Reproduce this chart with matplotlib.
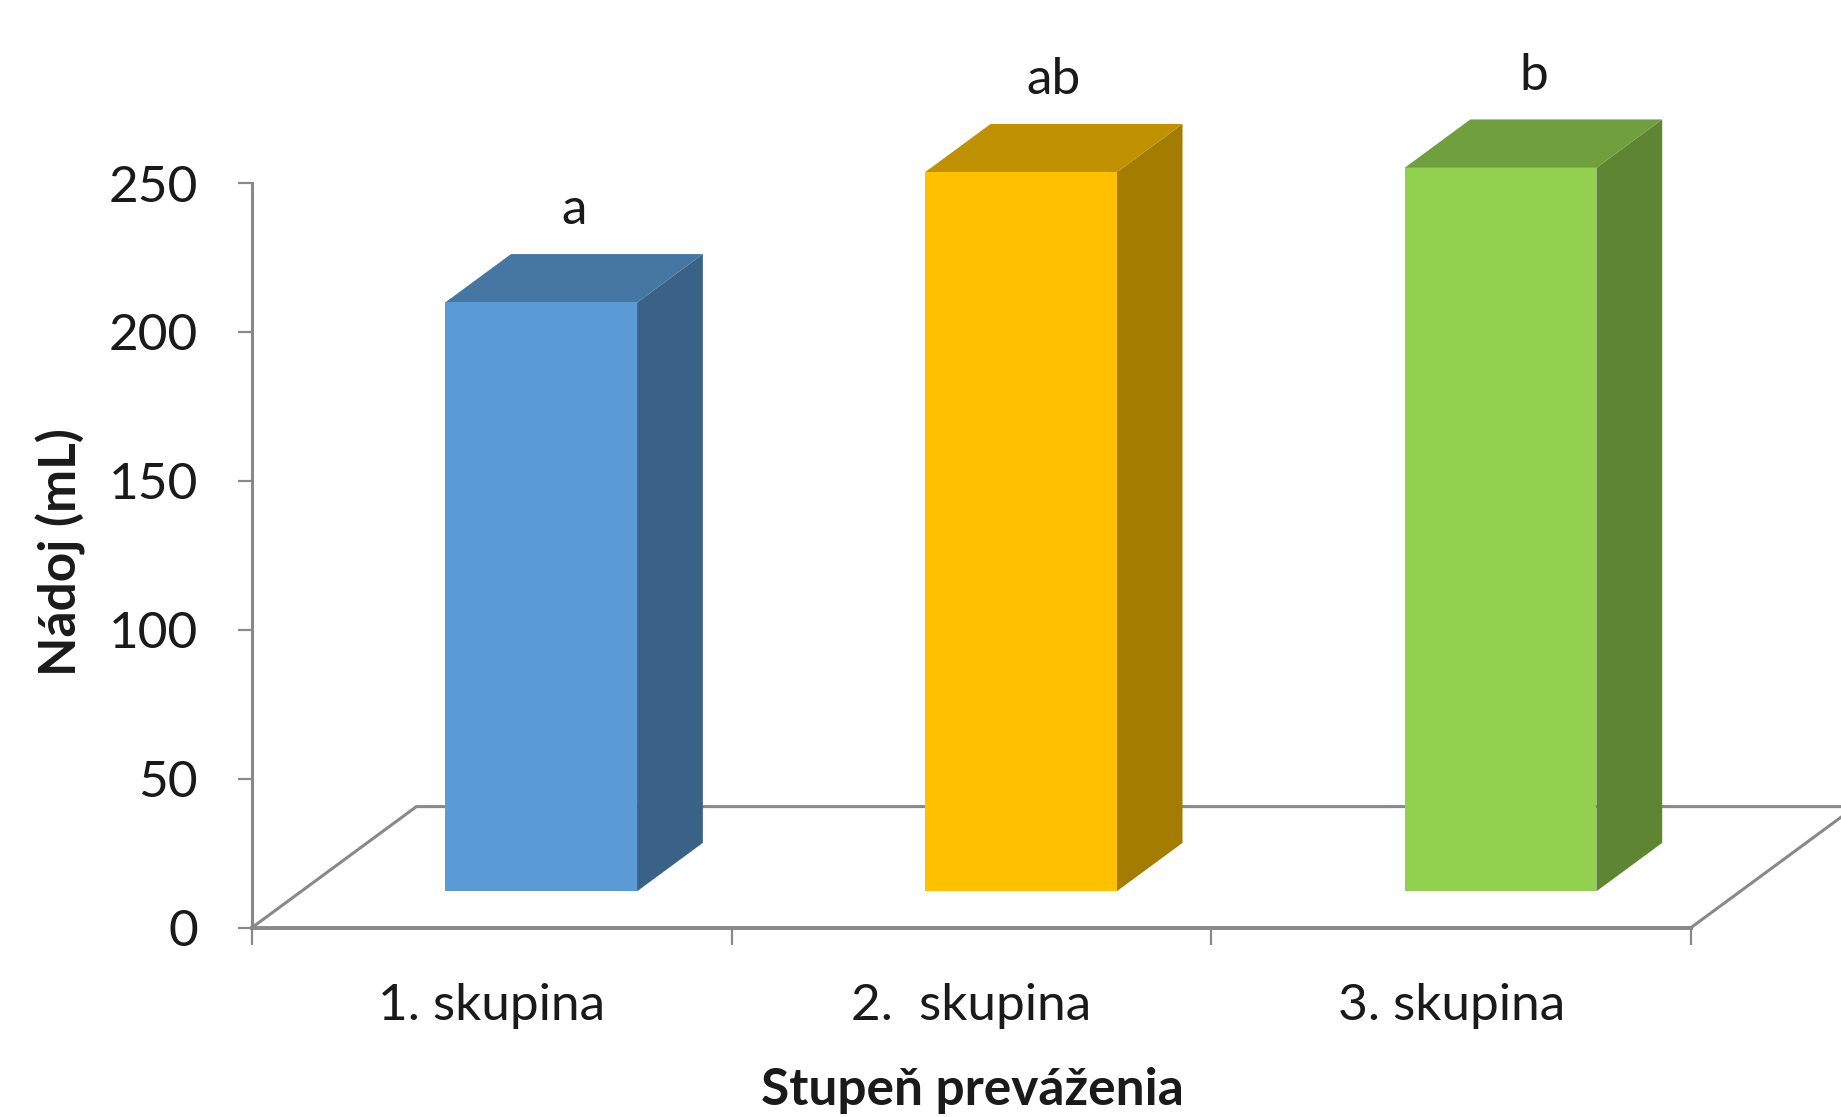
import matplotlib.pyplot as plt
from matplotlib.patches import Polygon

# Nádoj podľa stupňa preváženia
groups = ['1. skupina', '2.  skupina', '3. skupina']
milk_yield = [197.7, 241.4, 242.9]
letters = ['a', 'ab', 'b']

front_colors = ['#5B9BD5', '#FFC000', '#92D050']
top_colors = ['#4676A2', '#C09100', '#709F3E']
side_colors = ['#3A6287', '#A47C00', '#5E8632']

plt.rcParams['font.family'] = ['Lato', 'DejaVu Sans']

W, H = 1841, 1117
fig = plt.figure(figsize=(W / 100, H / 100), dpi=100)
ax = fig.add_axes([252 / W, (H - 927.6) / H, 1439 / W, 744.6 / H])
ax.set_xlim(0, 3)
ax.set_ylim(0, 250)

# šikmá projekcia hĺbky (v jednotkách osí)
ddx = 164.4 / (1439 / 3)
ddy = 121 / (744.6 / 250)
d_front, d_back = 0.3, 0.7
bar_w = 0.4

grid_c = '#898989'
# podlaha
ax.plot([0, ddx, 3 + ddx, 3], [0, ddy, ddy, 0], color=grid_c, lw=2.2,
        clip_on=False, zorder=1, solid_joinstyle='miter')

for i, v in enumerate(milk_yield):
    xl = i + 0.5 - bar_w / 2
    xr = i + 0.5 + bar_w / 2
    fx, fy = d_front * ddx, d_front * ddy
    bx, by = d_back * ddx, d_back * ddy
    front = [(xl + fx, fy), (xr + fx, fy), (xr + fx, v + fy), (xl + fx, v + fy)]
    top = [(xl + fx, v + fy), (xr + fx, v + fy), (xr + bx, v + by), (xl + bx, v + by)]
    side = [(xr + fx, fy), (xr + bx, by), (xr + bx, v + by), (xr + fx, v + fy)]
    for pts, c in ((side, side_colors[i]), (top, top_colors[i]), (front, front_colors[i])):
        ax.add_patch(Polygon(pts, closed=True, facecolor=c, edgecolor='none',
                             clip_on=False, zorder=3))
    ax.text(i + 0.5 + 0.5 * ddx, v + by + 10, letters[i], ha='center', va='baseline',
            fontsize=37, color='#1a1a1a', clip_on=False)

for s in ('top', 'right'):
    ax.spines[s].set_visible(False)
ax.spines['left'].set_color(grid_c)
ax.spines['left'].set_linewidth(2.2)
ax.spines['bottom'].set_color(grid_c)
ax.spines['bottom'].set_linewidth(2.8)
ax.spines['bottom'].set_zorder(2)

ax.set_yticks(range(0, 251, 50))
ax.tick_params(axis='y', direction='out', length=10, width=1.6, color=grid_c,
               pad=29, labelsize=37, labelcolor='#1a1a1a')
ax.set_xticks([0.5, 1.5, 2.5], groups)
ax.set_xticks([0, 1, 2, 3], minor=True)
ax.tick_params(axis='x', which='major', length=0, pad=40, labelsize=37,
               labelcolor='#1a1a1a')
ax.tick_params(axis='x', which='minor', direction='out', length=12.5, width=1.6,
               color=grid_c)

fig.text(61 / W, 1 - 552 / H, 'Nádoj (mL)', rotation=90, ha='center', va='center',
         fontsize=37, fontweight='bold', color='#1a1a1a')
fig.text(972 / W, 1 - 1090 / H, 'Stupeň preváženia', ha='center', va='center',
         fontsize=37, fontweight='bold', color='#1a1a1a')

fig.savefig('out.png', dpi=100, facecolor='white')
